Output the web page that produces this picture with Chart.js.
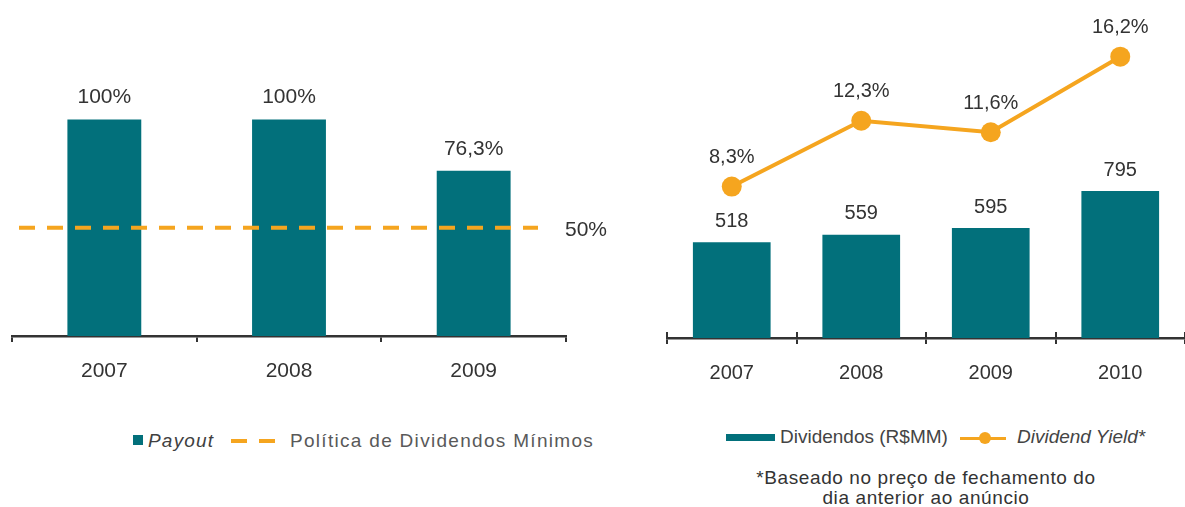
<!DOCTYPE html>
<html>
<head>
<meta charset="utf-8">
<script src="https://cdn.jsdelivr.net/npm/chart.js@4.4.1/dist/chart.umd.min.js"></script>
<style>
  html, body { margin: 0; padding: 0; background: #fff; width: 1185px; height: 507px; overflow: hidden;
    font-family: "Liberation Sans", Arial, sans-serif; }
  #left { position: absolute; left: 0; top: 0; width: 620px; height: 400px; }
  #right { position: absolute; left: 655px; top: 0; width: 540px; height: 400px; }
  .lg { position: absolute; font-size: 19px; line-height: 22px; white-space: nowrap; }
  .sw { position: absolute; }
</style>
</head>
<body>
<div id="left"><canvas id="payoutChart"></canvas></div>
<div id="right"><canvas id="dividendChart"></canvas></div>

<!-- legenda esquerda -->
<div class="sw" style="left:133px;top:435px;width:10px;height:10px;background:#02707b"></div>
<div class="lg" style="left:148px;top:430px;color:#404040;font-style:italic;letter-spacing:1.2px">Payout</div>
<div class="sw" style="left:231px;top:439px;width:16px;height:4px;background:#f5a51f"></div>
<div class="sw" style="left:259px;top:439px;width:16px;height:4px;background:#f5a51f"></div>
<div class="lg" style="left:290px;top:430px;color:#595959;letter-spacing:1.3px">Política de Dividendos Mínimos</div>

<!-- legenda direita -->
<div class="sw" style="left:726px;top:434px;width:49px;height:7px;background:#02707b"></div>
<div class="lg" style="left:780px;top:426px;color:#444">Dividendos (R$MM)</div>
<div class="sw" style="left:960px;top:437px;width:46px;height:3px;background:#f5a51f"></div>
<div class="sw" style="left:979px;top:432px;width:12px;height:12px;border-radius:6px;background:#f5a51f"></div>
<div class="lg" style="left:1017px;top:426px;color:#444;font-style:italic">Dividend Yield*</div>
<div class="lg" style="left:706px;top:468px;width:440px;text-align:center;color:#333;line-height:20px;letter-spacing:0.6px;white-space:normal">*Baseado no preço de fechamento do<br>dia anterior ao anúncio</div>

<script>
const years = ["2007", "2008", "2009"];
const payout = [100, 100, 76.3];
const minPolicy = 50;

const years2 = ["2007", "2008", "2009", "2010"];
const dividends = [518, 559, 595, 795];
const yieldPct = [8.3, 12.3, 11.6, 16.2];

const teal = "#02707b";
const orange = "#f5a51f";
const fontFam = "'Liberation Sans', Arial, sans-serif";
const fmt = v => String(v).replace(".", ",");

function labelPlugin(sets, size) {
  return {
    id: "valueLabels",
    afterDatasetsDraw(chart) {
      const ctx = chart.ctx;
      ctx.save();
      ctx.font = size + "px " + fontFam;
      ctx.fillStyle = "#333";
      ctx.textAlign = "center";
      ctx.textBaseline = "middle";
      for (let s of sets) {
        const meta = chart.getDatasetMeta(s.index);
        meta.data.forEach((el, i) => {
          const v = chart.data.datasets[s.index].data[i];
          ctx.fillText(s.format(v), el.x, el.y - s.offset);
        });
      }
      ctx.restore();
    }
  };
}

const policyLine = {
  id: "policyLine",
  afterDatasetsDraw(chart) {
    const area = chart.chartArea;
    const y = chart.scales.y.getPixelForValue(minPolicy);
    const ctx = chart.ctx;
    ctx.save();
    ctx.strokeStyle = orange;
    ctx.lineWidth = 4;
    ctx.setLineDash([16, 12]);
    ctx.beginPath();
    ctx.moveTo(area.left + 7, y);
    ctx.lineTo(area.right - 28, y);
    ctx.stroke();
    ctx.setLineDash([]);
    ctx.font = "21px " + fontFam;
    ctx.fillStyle = "#333";
    ctx.textAlign = "center";
    ctx.textBaseline = "middle";
    ctx.fillText(minPolicy + "%", area.right + 20, y + 2);
    ctx.restore();
  }
};

// ticks que cruzam o eixo (grafico da direita)
const tickUp = {
  id: "tickUp",
  afterDraw(chart) {
    const x = chart.scales.x;
    const n = x.ticks.length;
    const w = (x.right - x.left) / n;
    const ctx = chart.ctx;
    ctx.save();
    ctx.strokeStyle = "#333";
    ctx.lineWidth = 2;
    for (let i = 0; i <= n; i++) {
      const px = Math.round(x.left + i * w);
      ctx.beginPath();
      ctx.moveTo(px, x.top - 6);
      ctx.lineTo(px, x.top);
      ctx.stroke();
    }
    ctx.restore();
  }
};

function xAxis(size, h, pad) {
  return {
    grid: { display: true, drawOnChartArea: false, drawTicks: true, tickLength: 6, color: "#333", lineWidth: 2, offset: true },
    border: { display: true, color: "#333", width: 2.5 },
    ticks: { color: "#333", font: { size: size, family: fontFam }, padding: pad },
    afterFit(s) { s.height = h; }
  };
}

new Chart(document.getElementById("payoutChart"), {
  type: "bar",
  data: {
    labels: years,
    datasets: [{
      label: "Payout",
      data: payout,
      backgroundColor: teal,
      categoryPercentage: 0.4,
      barPercentage: 1
    }]
  },
  options: {
    responsive: true,
    maintainAspectRatio: false,
    animation: false,
    layout: { padding: { left: 12, right: 54, top: 20, bottom: 0 } },
    plugins: { legend: { display: false }, tooltip: { enabled: false } },
    scales: {
      x: xAxis(21, 64, 17),
      y: { display: false, min: 0, max: 145.9 }
    }
  },
  plugins: [policyLine, labelPlugin([{ index: 0, offset: 22, format: v => fmt(v) + "%" }], 21)]
});

new Chart(document.getElementById("dividendChart"), {
  data: {
    labels: years2,
    datasets: [
      {
        type: "line",
        label: "Dividend Yield*",
        data: yieldPct,
        yAxisID: "y2",
        borderColor: orange,
        backgroundColor: orange,
        borderWidth: 4,
        pointRadius: 10,
        pointBorderWidth: 0,
        pointBackgroundColor: orange,
        tension: 0,
        order: 1
      },
      {
        type: "bar",
        label: "Dividendos (R$MM)",
        data: dividends,
        yAxisID: "y",
        backgroundColor: teal,
        categoryPercentage: 0.6,
        barPercentage: 1,
        order: 2
      }
    ]
  },
  options: {
    responsive: true,
    maintainAspectRatio: false,
    animation: false,
    layout: { padding: { left: 12, right: 6, top: 20, bottom: 0 } },
    plugins: { legend: { display: false }, tooltip: { enabled: false } },
    scales: {
      x: Object.assign(xAxis(20, 62, 17), { offset: true }),
      y: { display: false, min: 0, max: 1720 },
      y2: { display: false, position: "right", min: -0.91, max: 18.43 }
    }
  },
  plugins: [tickUp, labelPlugin([
    { index: 1, offset: 21, format: v => String(v) },
    { index: 0, offset: 29, format: v => fmt(v) + "%" }
  ], 20)]
});
</script>
</body>
</html>
